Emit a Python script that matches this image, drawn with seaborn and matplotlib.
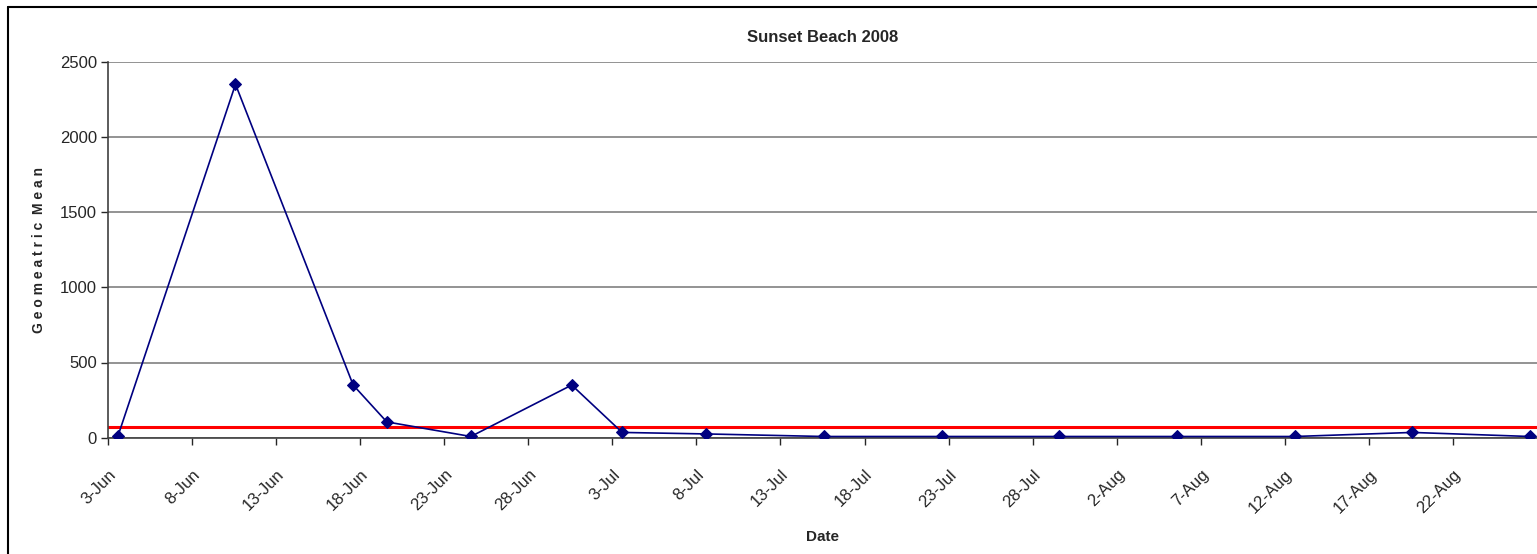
import matplotlib
matplotlib.use("Agg")
import matplotlib.pyplot as plt
import seaborn as sb
import pandas as pd

# sample dates and geometric mean values
dates = ["2008-06-03", "2008-06-10", "2008-06-17", "2008-06-19", "2008-06-24",
         "2008-06-30", "2008-07-03", "2008-07-08", "2008-07-15", "2008-07-22",
         "2008-07-29", "2008-08-05", "2008-08-12", "2008-08-19", "2008-08-26"]
geo_mean = [8, 2350, 350, 105, 8, 350, 35, 25, 8, 8, 8, 8, 8, 35, 8]
standard = 70
title = "Sunset Beach 2008"

df = pd.DataFrame({"Date": pd.to_datetime(dates) + pd.Timedelta(hours=14),
                   "Geometric Mean": geo_mean})

sb.set_style("white")
plt.rcParams["font.family"] = ["Liberation Sans", "DejaVu Sans"]

fig = plt.figure(figsize=(15.37, 5.54), dpi=100)
ax = fig.add_axes([108 / 1537, 1 - 437.7 / 554, 1 - 108 / 1537, (437.7 - 61.7) / 554])

ax.axhline(standard, color="#ff0000", lw=2.2, zorder=2)
sb.lineplot(data=df, x="Date", y="Geometric Mean", ax=ax, color="#000080",
            marker="D", markersize=6, markeredgecolor="#000080", lw=1.2, zorder=3)

ax.set_ylim(0, 2500)
ax.set_yticks(range(0, 2501, 500))
ax.yaxis.grid(True, color="#808080", lw=1.2)
ax.set_xlim(pd.Timestamp("2008-06-03"), pd.Timestamp("2008-08-27"))
ticks = pd.date_range("2008-06-03", "2008-08-26", freq="5D")
ax.set_xticks(ticks)
ax.set_xticklabels([f"{d.day}-{d.strftime('%b')}" for d in ticks],
                   rotation=45, ha="right", rotation_mode="anchor", fontsize=12)
ax.tick_params(axis="y", labelsize=12, length=5, width=1, direction="out", left=True, pad=3)
ax.tick_params(axis="x", length=5, width=1, direction="out", bottom=True, pad=16)

for s in ["top", "right"]:
    ax.spines[s].set_visible(False)
for s in ["left", "bottom"]:
    ax.spines[s].set_color("#404040")
    ax.spines[s].set_linewidth(1.2)

ax.set_title(title, fontsize=12, fontweight="bold", pad=14)
ax.set_xlabel("Date", fontsize=11, fontweight="bold")
ax.xaxis.set_label_coords(0.5, -(530 - 437.7) / 376)
ax.set_ylabel("G e o m e a t r i c  M e a n", fontsize=10, fontweight="bold")
ax.yaxis.set_label_coords(-(108 - 46) / 1429, 0.5)

# outer chart border
fig.add_artist(plt.Line2D([8 / 1537, 8 / 1537], [0, 1 - 7 / 554], color="black", lw=1.5,
                          transform=fig.transFigure))
fig.add_artist(plt.Line2D([8 / 1537, 1], [1 - 7 / 554, 1 - 7 / 554], color="black", lw=1.5,
                          transform=fig.transFigure))

fig.savefig("out.png", dpi=100)
